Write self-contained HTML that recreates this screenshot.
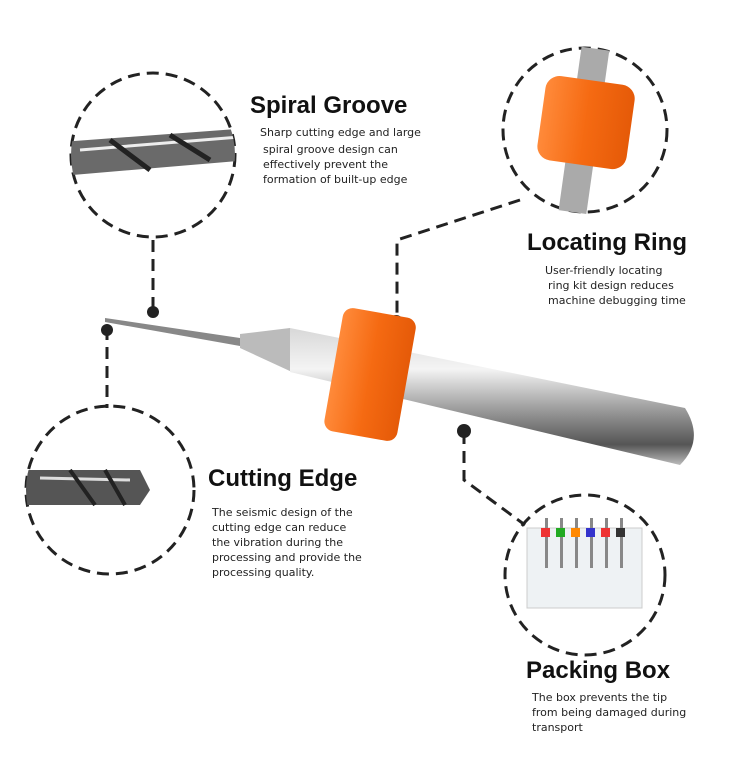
<!DOCTYPE html>
<html><head><meta charset="utf-8"><style>
body{margin:0;background:#fff;}
.t{font-family:"Liberation Sans",sans-serif;font-weight:bold;font-size:24px;fill:#111;}
.d{font-family:"DejaVu Sans","Liberation Sans",sans-serif;font-size:11px;fill:#222;}
</style></head><body>
<svg width="750" height="764" viewBox="0 0 750 764" xmlns="http://www.w3.org/2000/svg">
<defs>
<linearGradient id="sh" x1="0" y1="0" x2="0" y2="1">
<stop offset="0" stop-color="#d8d8d8"/><stop offset="0.3" stop-color="#f4f4f4"/><stop offset="0.6" stop-color="#9a9a9a"/><stop offset="0.85" stop-color="#555"/><stop offset="1" stop-color="#bbb"/></linearGradient>
<linearGradient id="or" x1="0" y1="0" x2="1" y2="0">
<stop offset="0" stop-color="#ff8a3a"/><stop offset="0.5" stop-color="#f56a12"/><stop offset="1" stop-color="#e55a08"/></linearGradient>
<clipPath id="c1"><circle cx="153" cy="155" r="82"/></clipPath>
<clipPath id="c3"><circle cx="110" cy="490" r="84"/></clipPath>
<clipPath id="c4"><circle cx="585" cy="575" r="80"/></clipPath>
</defs>
<g fill="none" stroke="#222" stroke-width="3" stroke-dasharray="12 7">
<circle cx="153" cy="155" r="82"/>
<circle cx="585" cy="130" r="82"/>
<circle cx="110" cy="490" r="84"/>
<circle cx="585" cy="575" r="80"/>
<path d="M153 240 V312"/>
<path d="M520 200 L397 240 V318"/>
<path d="M107 328 V408"/>
<path d="M464 432 V480 L525 525"/>
</g>
<g fill="#222"><circle cx="153" cy="312" r="6"/><circle cx="396" cy="322" r="7"/><circle cx="107" cy="330" r="6"/><circle cx="464" cy="431" r="7"/></g>
<g clip-path="url(#c1)"><path d="M60 142 L250 128 L250 160 L60 176Z" fill="#6a6a6a"/><path d="M80 150 L240 137" stroke="#eee" stroke-width="3"/><path d="M110 140 L150 170 M170 135 L210 160" stroke="#222" stroke-width="5"/></g>
<g clip-path="url(#c3)"><path d="M20 470 L140 470 L150 490 L140 505 L20 505Z" fill="#555"/><path d="M40 478 L130 480" stroke="#ddd" stroke-width="3"/><path d="M70 470 L95 505 M105 470 L125 505" stroke="#222" stroke-width="4"/></g>
<g transform="rotate(8 585 130)"><rect x="570" y="48" width="28" height="165" fill="#aaa"/>
<rect x="540" y="80" width="90" height="85" rx="14" fill="url(#or)"/></g>
<g clip-path="url(#c4)">
<rect x="527" y="528" width="115" height="80" fill="#eef2f4" stroke="#ccc"/>
<g fill="#888"><rect x="545" y="518" width="3" height="50"/><rect x="560" y="518" width="3" height="50"/><rect x="575" y="518" width="3" height="50"/><rect x="590" y="518" width="3" height="50"/><rect x="605" y="518" width="3" height="50"/><rect x="620" y="518" width="3" height="50"/></g>
<g><rect x="541" y="528" width="9" height="9" fill="#e33"/><rect x="556" y="528" width="9" height="9" fill="#2a2"/><rect x="571" y="528" width="9" height="9" fill="#f80"/><rect x="586" y="528" width="9" height="9" fill="#33c"/><rect x="601" y="528" width="9" height="9" fill="#e33"/><rect x="616" y="528" width="9" height="9" fill="#333"/></g>
</g>
<path d="M105 318 L240 338 L240 346 L105 322Z" fill="#888"/>
<path d="M240 334 L290 328 L292 372 L240 348Z" fill="#bbb"/>
<path d="M290 328 L685 408 Q705 440 680 465 L290 372Z" fill="url(#sh)"/>
<g transform="rotate(10 370 375)"><rect x="333" y="312" width="74" height="125" rx="10" fill="url(#or)"/></g>
<text class="t" x="250" y="113">Spiral Groove</text>
<text class="d"><tspan x="260" y="136">Sharp cutting edge and large</tspan><tspan x="263" y="153">spiral groove design can</tspan><tspan x="263" y="168">effectively prevent the</tspan><tspan x="263" y="183">formation of built-up edge</tspan></text>
<text class="t" x="527" y="250">Locating Ring</text>
<text class="d"><tspan x="545" y="274">User-friendly locating</tspan><tspan x="548" y="289">ring kit design reduces</tspan><tspan x="548" y="304">machine debugging time</tspan></text>
<text class="t" x="208" y="486">Cutting Edge</text>
<text class="d"><tspan x="212" y="516">The seismic design of the</tspan><tspan x="212" y="531">cutting edge can reduce</tspan><tspan x="212" y="546">the vibration during the</tspan><tspan x="212" y="561">processing and provide the</tspan><tspan x="212" y="576">processing quality.</tspan></text>
<text class="t" x="526" y="678">Packing Box</text>
<text class="d"><tspan x="532" y="701">The box prevents the tip</tspan><tspan x="532" y="716">from being damaged during</tspan><tspan x="532" y="731">transport</tspan></text>
</svg>
</body></html>
